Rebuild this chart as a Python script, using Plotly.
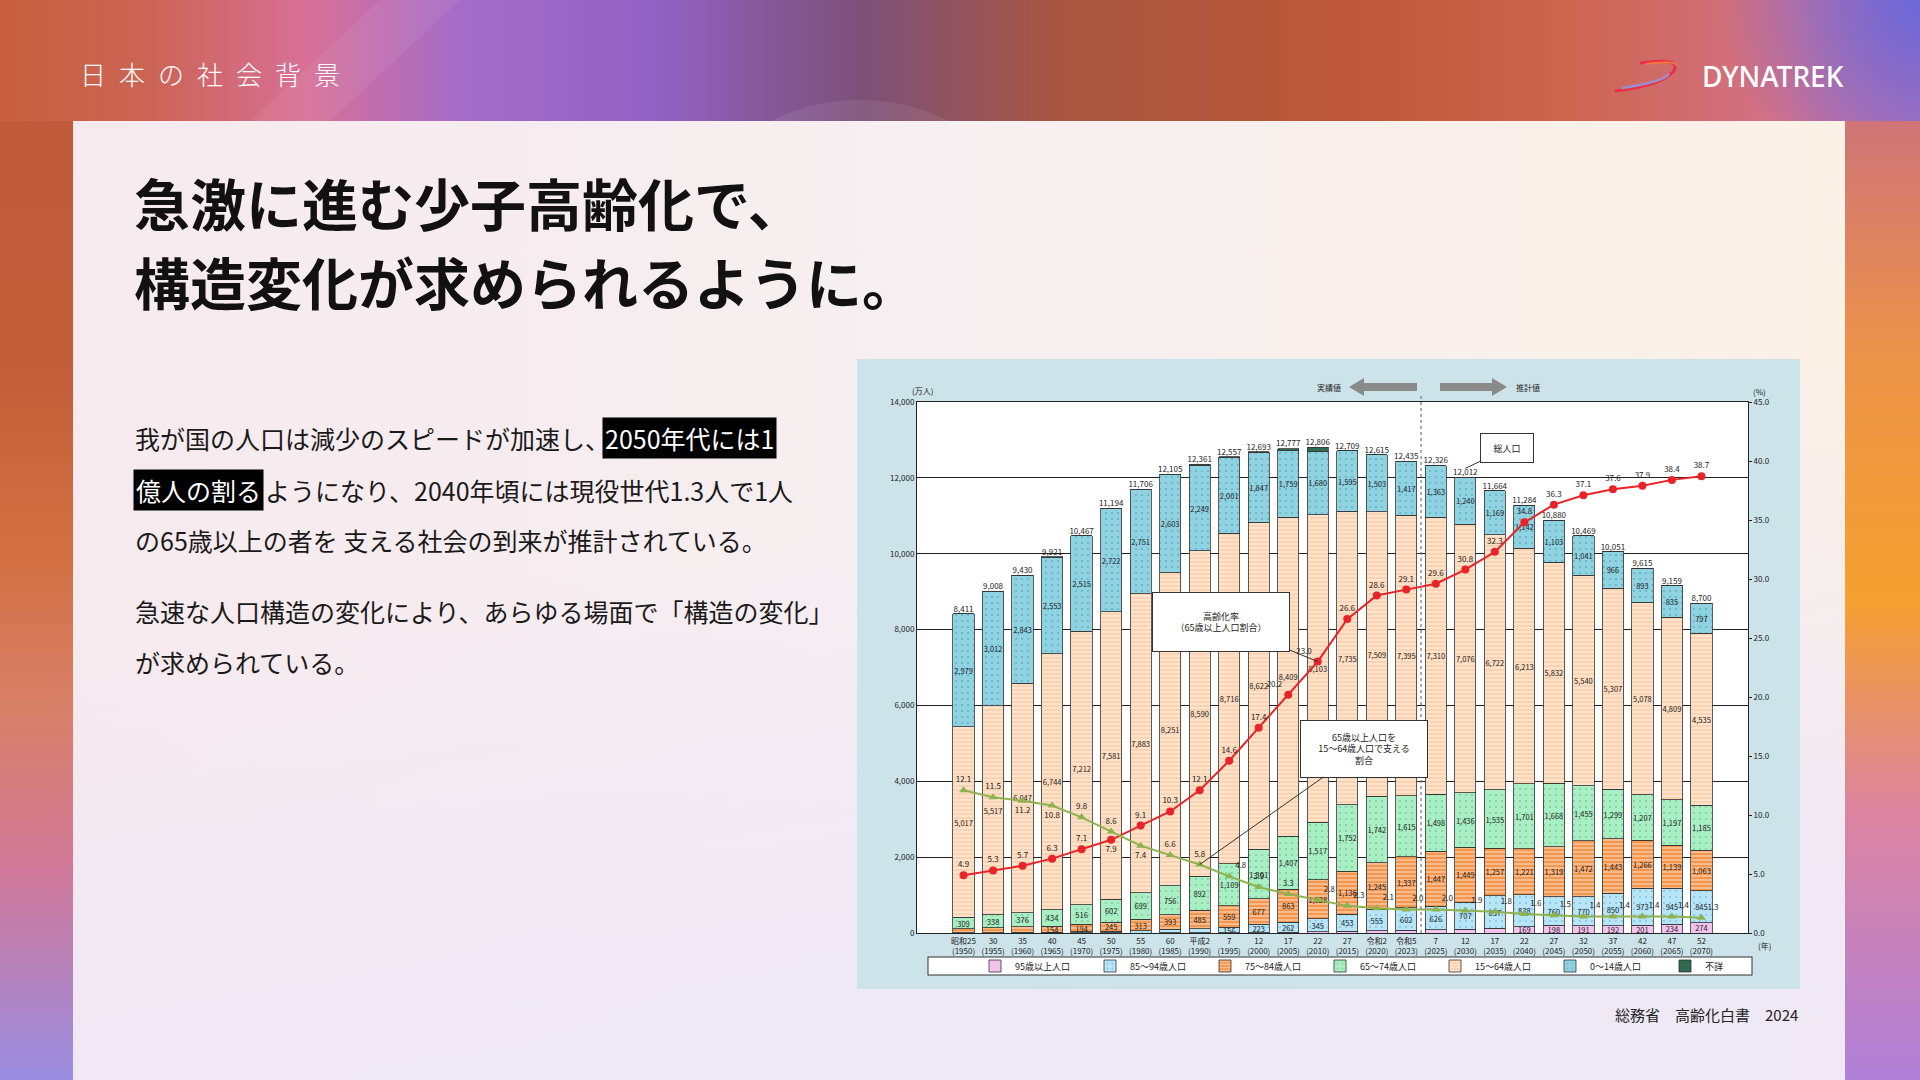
import base64
import plotly.graph_objects as go

W, H = 1920, 1080

# ---- chart data (万人 / %) ----
years = ["1950", "1955", "1960", "1965", "1970", "1975", "1980", "1985", "1990", "1995",
         "2000", "2005", "2010", "2015", "2020", "2023", "2025", "2030", "2035", "2040",
         "2045", "2050", "2055", "2060", "2065", "2070"]
year_labels = ["昭和25<br>(1950)", "30<br>(1955)", "35<br>(1960)", "40<br>(1965)", "45<br>(1970)",
               "50<br>(1975)", "55<br>(1980)", "60<br>(1985)", "平成2<br>(1990)", "7<br>(1995)",
               "12<br>(2000)", "17<br>(2005)", "22<br>(2010)", "27<br>(2015)", "令和2<br>(2020)",
               "令和5<br>(2023)", "7<br>(2025)", "12<br>(2030)", "17<br>(2035)", "22<br>(2040)",
               "27<br>(2045)", "32<br>(2050)", "37<br>(2055)", "42<br>(2060)", "47<br>(2065)",
               "52<br>(2070)"]
pop_95 = [0, 0, 0, 1, 1, 1, 0, 2, 1, 1, 3, 24, 34, 42, 58, 68, 81, 105, 124, 169,
          198, 191, 192, 201, 234, 274]
pop_85_94 = [10, 13, 17, 25, 30, 39, 53, 92, 112, 156, 223, 262, 345, 453, 555, 602, 626, 707, 857, 838,
             760, 770, 850, 973, 945, 845]
pop_75_84 = [97, 125, 146, 154, 194, 245, 313, 393, 485, 559, 677, 863, 1028, 1136, 1245, 1337, 1447, 1449,
             1257, 1221, 1319, 1472, 1443, 1266, 1139, 1063]
pop_65_74 = [309, 338, 376, 434, 516, 602, 699, 756, 892, 1109, 1301, 1407, 1517, 1752, 1742, 1615, 1498,
             1436, 1535, 1701, 1668, 1455, 1299, 1207, 1197, 1185]
pop_15_64 = [5017, 5517, 6047, 6744, 7212, 7581, 7883, 8251, 8590, 8716, 8622, 8409, 8103, 7735, 7509,
             7395, 7310, 7076, 6722, 6213, 5832, 5540, 5307, 5078, 4809, 4535]
pop_0_14 = [2979, 3012, 2843, 2553, 2515, 2722, 2751, 2603, 2249, 2001, 1847, 1759, 1680, 1595, 1503,
            1417, 1363, 1240, 1169, 1142, 1103, 1041, 966, 893, 835, 797]
pop_unknown = [2, 2, 1, 5, 0, 5, 7, 4, 33, 15, 20, 48, 98, 0, 0, 0, 0, 0, 0, 0, 0, 0, 0, 0, 0, 0]
pop_total = [8411, 9008, 9430, 9921, 10467, 11194, 11706, 12105, 12361, 12557, 12693, 12777, 12806,
             12709, 12615, 12435, 12326, 12012, 11664, 11284, 10880, 10469, 10051, 9615, 9159, 8700]
aging_rate = [4.9, 5.3, 5.7, 6.3, 7.1, 7.9, 9.1, 10.3, 12.1, 14.6, 17.4, 20.2, 23.0, 26.6, 28.6, 29.1,
              29.6, 30.8, 32.3, 34.8, 36.3, 37.1, 37.6, 37.9, 38.4, 38.7]
support_ratio = [12.1, 11.5, 11.2, 10.8, 9.8, 8.6, 7.4, 6.6, 5.8, 4.8, 3.9, 3.3, 2.8, 2.3, 2.1, 2.0,
                 2.0, 1.9, 1.8, 1.6, 1.5, 1.4, 1.4, 1.4, 1.4, 1.3]

# label placement for the two line series (style, same order as years)
red_pos = ["top center"] * 26
red_pos[5] = "bottom center"
red_pos[11] = "top left"
red_pos[12] = "top left"
green_pos = ["top center"] * 12 + ["top right"] * 14
green_pos[2] = "bottom center"
green_pos[3] = "bottom center"
green_pos[6] = "bottom center"
green_pos[9] = "top right"


def fx(x):
    return x / W


def fy(y):
    return 1 - y / H


# ---- background (gradient page, card, chart panel) as an svg image ----
svg = """<svg xmlns="http://www.w3.org/2000/svg" width="1920" height="1080" viewBox="0 0 1920 1080">
<defs>
<linearGradient id="bg" x1="0" y1="0" x2="1" y2="0">
<stop offset="0" stop-color="#c8603e"/><stop offset="0.08" stop-color="#cc6456"/>
<stop offset="0.16" stop-color="#d87098"/><stop offset="0.24" stop-color="#a46cc8"/>
<stop offset="0.34" stop-color="#9262c4"/><stop offset="0.45" stop-color="#7c5078"/>
<stop offset="0.55" stop-color="#a85642"/><stop offset="0.7" stop-color="#bc5838"/>
<stop offset="0.82" stop-color="#cc6650"/><stop offset="0.93" stop-color="#d4728a"/>
<stop offset="1" stop-color="#b070b8"/>
</linearGradient>
<radialGradient id="tr" cx="1920" cy="0" r="200" gradientUnits="userSpaceOnUse">
<stop offset="0" stop-color="#6c68d8" stop-opacity="1"/><stop offset="1" stop-color="#6c68d8" stop-opacity="0"/></radialGradient>
<linearGradient id="ls" x1="0" y1="0" x2="0" y2="1">
<stop offset="0" stop-color="#c05a3a"/><stop offset="0.25" stop-color="#c35c38"/>
<stop offset="0.45" stop-color="#d27042"/><stop offset="0.62" stop-color="#d8806a"/>
<stop offset="0.78" stop-color="#d07898"/><stop offset="1" stop-color="#9a8ee2"/></linearGradient>
<linearGradient id="rs" x1="0" y1="0" x2="0" y2="1">
<stop offset="0" stop-color="#d07478"/><stop offset="0.25" stop-color="#ec9448"/>
<stop offset="0.5" stop-color="#f5a030"/><stop offset="0.72" stop-color="#dc84a0"/>
<stop offset="1" stop-color="#b080d8"/></linearGradient>
<linearGradient id="card" x1="0" y1="0" x2="1" y2="0">
<stop offset="0" stop-color="#f6eaee"/><stop offset="0.5" stop-color="#f7eff1"/>
<stop offset="1" stop-color="#fbf1e7"/></linearGradient>
<linearGradient id="cardb" x1="0" y1="0" x2="0.3" y2="1">
<stop offset="0.5" stop-color="#ece6f8" stop-opacity="0"/><stop offset="1" stop-color="#ece6f8" stop-opacity="0.8"/></linearGradient>
</defs>
<rect width="1920" height="1080" fill="url(#bg)"/>
<rect width="1920" height="1080" fill="url(#tr)"/>
<rect x="0" y="121" width="73" height="959" fill="url(#ls)"/>
<rect x="1845" y="121" width="75" height="959" fill="url(#rs)"/>
<circle cx="860" cy="300" r="200" fill="#ffffff" fill-opacity="0.08"/>
<path d="M250,121 L380,0 L460,0 L330,121 Z" fill="#ffffff" fill-opacity="0.06"/>
<rect x="73" y="121" width="1772" height="959" fill="url(#card)"/>
<rect x="73" y="121" width="1772" height="959" fill="url(#cardb)"/>
<rect x="857" y="359" width="943" height="630" fill="#cde3ea"/>
<rect x="917" y="402" width="831" height="531" fill="#ffffff"/>
<rect x="928" y="957" width="824" height="18" fill="#ffffff" stroke="#333333" stroke-width="1"/>
<path d="M1640,63 Q1684,57 1673,72 Q1660,86 1615,91" fill="none" stroke="#e8304a" stroke-width="3"/>
<path d="M1646,64 Q1676,60 1677,66" fill="none" stroke="#f27a3c" stroke-width="2"/>
<path d="M1622,88 Q1663,82 1669,74" fill="none" stroke="#9a90d0" stroke-width="2.5"/>
</svg>"""
bg_uri = "data:image/svg+xml;base64," + base64.b64encode(svg.encode("utf-8")).decode("ascii")

JP = "Noto Sans CJK JP"
fig = go.Figure()


def lab(vals, minv):
    return [f"{v:,}" if v >= minv else "" for v in vals]


def add_bar(name, vals, color, shape, fg, minv):
    pat = dict(shape=shape, fgcolor=fg, fillmode="overlay", size=4 if shape == "-" else 6,
               solidity=0.35 if shape == "-" else 0.1) if shape else None
    fig.add_trace(go.Bar(
        x=years, y=vals, name=name,
        marker=dict(color=color, line=dict(color="#333333", width=0.8), pattern=pat),
        text=lab(vals, minv), textposition="inside", insidetextanchor="middle",
        constraintext="none", textangle=0,
        textfont=dict(size=7.5, color="#222222", family=JP),
        hoverinfo="skip",
    ))


add_bar("95歳以上人口", pop_95, "#f4c2ef", "", None, 150)
add_bar("85～94歳人口", pop_85_94, "#b6e5f8", ".", "#5a9fc0", 150)
add_bar("75～84歳人口", pop_75_84, "#f4974e", "-", "#ffffff", 150)
add_bar("65～74歳人口", pop_65_74, "#a9efc4", ".", "#5aa879", 150)
add_bar("15～64歳人口", pop_15_64, "#fcd3b1", "-", "#ffffff", 150)
add_bar("0～14歳人口", pop_0_14, "#8fd3e3", ".", "#3d8ea3", 150)
add_bar("不詳", pop_unknown, "#2e6b52", "", None, 100000)

# totals above bars
fig.add_trace(go.Scatter(
    x=years, y=pop_total, mode="text", text=[f"{v:,}" for v in pop_total],
    textposition="top center", textfont=dict(size=8, color="#222222", family=JP),
    showlegend=False, hoverinfo="skip", cliponaxis=False,
))

# aging rate (red) and support ratio (green) on right axis
fig.add_trace(go.Scatter(
    x=years, y=aging_rate, yaxis="y2", mode="lines+markers+text",
    line=dict(color="#e8242a", width=2), marker=dict(color="#e8242a", size=8),
    text=[f"{v:.1f}" for v in aging_rate], textposition=red_pos,
    textfont=dict(size=8, color="#222222", family=JP),
    showlegend=False, hoverinfo="skip", cliponaxis=False,
))
fig.add_trace(go.Scatter(
    x=years, y=support_ratio, yaxis="y2", mode="lines+markers+text",
    line=dict(color="#8db24e", width=2), marker=dict(color="#8db24e", size=8, symbol="triangle-up"),
    text=[f"{v:.1f}" for v in support_ratio], textposition=green_pos,
    textfont=dict(size=8, color="#222222", family=JP),
    showlegend=False, hoverinfo="skip", cliponaxis=False,
))


def poly(pts):
    return "M " + " L ".join(f"{fx(x):.5f},{fy(y):.5f}" for x, y in pts) + " Z"


shapes = [
    # dashed boundary between actual and projected values
    dict(type="line", xref="x", yref="paper", x0=15.5, x1=15.5, y0=fy(933), y1=fy(394),
         line=dict(color="#777777", width=1.2, dash="dot")),
    # grey block arrows
    dict(type="path", xref="paper", yref="paper", fillcolor="#8a8a8a", line=dict(width=0),
         path=poly([(1417, 383), (1364, 383), (1364, 378), (1349, 387), (1364, 396), (1364, 391), (1417, 391)])),
    dict(type="path", xref="paper", yref="paper", fillcolor="#8a8a8a", line=dict(width=0),
         path=poly([(1440, 383), (1492, 383), (1492, 378), (1507, 387), (1492, 396), (1492, 391), (1440, 391)])),
]

ann = []


def text(x, y, s, size, color="#111111", xanchor="left", weight="normal", family=JP, **kw):
    ann.append(dict(x=fx(x), y=fy(y), xref="paper", yref="paper", text=s, showarrow=False,
                    xanchor=xanchor, yanchor="middle",
                    font=dict(size=size, color=color, family=family, weight=weight), **kw))


# page header
sp = "\u2002"
text(78, 73, sp.join("日本の社会背景"), 26, "#ffffff", weight=300)
text(1846, 76, "DYNATREK", 28, "#ffffff", xanchor="right", family="Noto Sans", weight=500)

# heading
text(132, 202, "急激に進む少子高齢化で、", 56, "#111111", weight="bold")
text(132, 280, "構造変化が求められるように。", 56, "#111111", weight="bold")

# body
fs = 25
text(133, 438, "我が国の人口は減少のスピードが加速し、", fs, "#1a1a1a")
text(133 + 19 * fs - 6, 438, "2050年代には1", fs, "#ffffff", bgcolor="#000000", borderpad=2)
text(133, 490, "億人の割る", fs, "#ffffff", bgcolor="#000000", borderpad=2)
text(133 + 5 * fs + 5, 490, "ようになり、2040年頃には現役世代1.3人で1人", fs, "#1a1a1a")
text(133, 540, "の65歳以上の者を 支える社会の到来が推計されている。", fs, "#1a1a1a")
text(133, 611, "急速な人口構造の変化により、あらゆる場面で「構造の変化」", fs, "#1a1a1a")
text(133, 662, "が求められている。", fs, "#1a1a1a")

# source
text(1800, 1014, "総務省　高齢化白書　2024", 15, "#222222", xanchor="right")

# chart small texts
text(922, 390, "(万人)", 8, "#222222", xanchor="center")
text(1759, 391, "(%)", 8, "#222222", xanchor="center")
text(1756, 945, "(年)", 8, "#222222")
text(1329, 387, "実績値", 8, "#222222", xanchor="center")
text(1528, 387, "推計値", 8, "#222222", xanchor="center")

# callouts
box = dict(showarrow=True, arrowhead=0, arrowwidth=1, arrowcolor="#333333", bgcolor="#ffffff",
           bordercolor="#333333", borderwidth=1, borderpad=4,
           font=dict(size=9, color="#222222", family=JP))
ann.append(dict(x=12, y=23.0, xref="x", yref="y2", ax=-97, ay=-40, width=128, height=50,
                text="高齢化率<br>（65歳以上人口割合）", **box))
ann.append(dict(x=8, y=5.8, xref="x", yref="y2", ax=164, ay=-116, width=118, height=48,
                text="65歳以上人口を<br>15～64歳人口で支える<br>割合", **box))
ann.append(dict(x=17, y=12250, xref="x", yref="y", ax=42, ay=-20, width=44, height=20,
                text="総人口", **box))

fig.update_layout(
    width=W, height=H, margin=dict(l=0, r=0, t=0, b=0),
    paper_bgcolor="#d6582f", plot_bgcolor="rgba(0,0,0,0)",
    barmode="stack", bargap=0.28,
    images=[dict(source=bg_uri, xref="paper", yref="paper", x=0, y=1, sizex=1, sizey=1,
                 xanchor="left", yanchor="top", sizing="stretch", layer="below")],
    font=dict(family=JP, color="#222222"),
    xaxis=dict(domain=[fx(917), fx(1748)], type="category", tickvals=years, ticktext=year_labels,
               tickfont=dict(size=8, color="#222222"), showline=True, linecolor="#222222",
               linewidth=1, mirror=True, showgrid=False, ticks="", automargin=False),
    yaxis=dict(domain=[fy(933), fy(402)], range=[0, 14000], dtick=2000, tickformat=",",
               tickfont=dict(size=8, color="#222222"), showgrid=True, gridcolor="#222222",
               gridwidth=1, showline=True, linecolor="#222222", zeroline=False,
               ticks="", automargin=False),
    yaxis2=dict(overlaying="y", side="right", range=[0, 45], dtick=5, tickformat=".1f",
                tickfont=dict(size=8, color="#222222"), showgrid=False, showline=True,
                linecolor="#222222", zeroline=False, ticks="outside", ticklen=3,
                tickcolor="#222222", automargin=False),
    legend=dict(orientation="h", x=fx(975), y=fy(966), xanchor="left", yanchor="middle",
                bgcolor="rgba(0,0,0,0)", traceorder="normal", entrywidth=70,
                entrywidthmode="pixels", itemwidth=30, font=dict(size=9, color="#222222")),
    shapes=shapes, annotations=ann, showlegend=True,
)

fig.write_html("out.html", config={"displayModeBar": False},
               post_script="document.body.style.margin='0';document.body.style.overflow='hidden';")
